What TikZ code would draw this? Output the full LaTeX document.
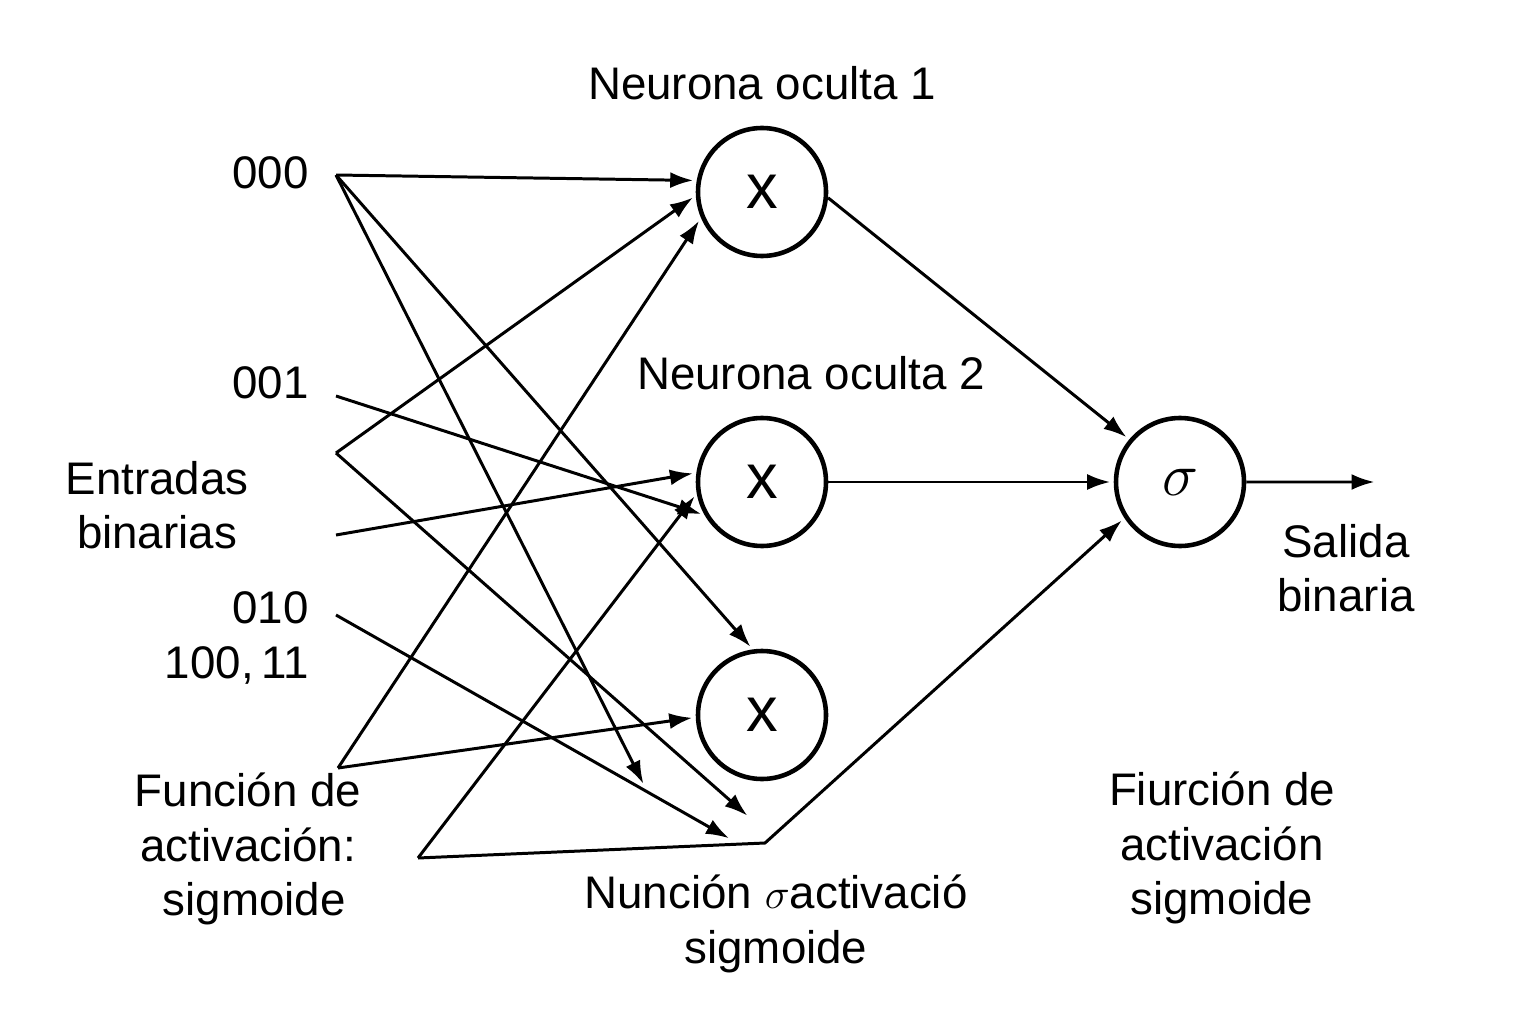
\documentclass[tikz,border=0pt]{standalone}
\usepackage{amsmath}
\usepackage{fontspec}
\setmainfont{Liberation Sans}
\usetikzlibrary{arrows,arrows.meta,positioning,shapes,calc}

\begin{document}
\begin{tikzpicture}[->,>={Latex[length=2.3mm,width=1.6mm]},shorten >=1pt,auto,node distance=2.9cm,
                    line width=0.85pt]
  \tikzstyle{neuron}=[draw,circle,line width=1.3pt,minimum size=1.28cm,inner sep=0pt,font=\fontsize{18}{20}\selectfont]
  \tikzstyle{label}=[font=\fontsize{13}{15.5}\selectfont,align=center]

  \useasboundingbox (0,0) rectangle (15.36,10.24);

  % neuronas
  \node[neuron]				(h1) at (7.62,8.32)		{x};
  \node[neuron]				(h2) [below of=h1]		{x};
  \node[neuron]				(h3) [below of=h2, node distance=2.33cm]	{x};
  \node[neuron]				(out) [right of=h2, node distance=4.18cm]	{$\sigma$};

  % puntos de entrada
  \coordinate (p1) at (3.36,8.49);
  \coordinate (p2) at (3.36,6.28);
  \coordinate (p3) at (3.36,5.71);
  \coordinate (p4) at (3.36,4.89);
  \coordinate (p5) at (3.36,4.09);
  \coordinate (p6) at (3.38,2.56);
  \coordinate (p7) at (4.18,1.66);
  \coordinate (p8) at (7.65,1.81);
  \coordinate (e1) at (6.45,2.37);
  \coordinate (e2) at (7.50,2.06);
  \coordinate (e3) at (7.32,1.84);
  \coordinate (fin) at (13.78,5.42);

  % textos
  \node[label]	(t1)	at (7.62,9.41)	{Neurona oculta 1};
  \node[label]	(t2)	at (8.11,6.51)	{Neurona oculta 2};
  \node[label,anchor=east]	(i1)	at (3.22,8.51)	{000};
  \node[label,anchor=east]	(i2)	at (3.22,6.41)	{001};
  \node[label]	(ent)	at (1.57,5.19)	{Entradas\\binarias};
  \node[label,anchor=east]	(i3)	at (3.22,4.16)	{010};
  \node[label,anchor=east]	(i4)	at (3.22,3.59)	{100,\,11};
  \node[label]	(f1)	at (2.48,1.75)	{Función de\\activación:\\\ sigmoide};
  \node[label]	(f2)	at (7.76,1.00)	{Nunción $\sigma$activació\\sigmoide};
  \node[label]	(f3)	at (12.22,1.76)	{Fiurción de\\activación\\sigmoide};
  \node[label]	(sal)	at (13.46,4.56)	{Salida\\binaria};

  % conexiones
  \path (p1) edge (h1.170);
  \path (p1) edge (e1);
  \path (p1) edge (h3.98);
  \path (p2) edge (h2.210);
  \path (p3) edge (h1.183);
  \path (p3) edge (e2);
  \path (p4) edge (h2.172);
  \path (p5) edge (e3);
  \path (p6) edge (h1.203);
  \path (p6) edge (h3.182);
  \path (p7) edge (h2.190);
  \draw (p7) -- (p8) -- (out.213);

  \path (h1.355) edge (out.140);
  \path (h2) edge (out);
  \path (out) edge (fin);

\end{tikzpicture}
\end{document}
